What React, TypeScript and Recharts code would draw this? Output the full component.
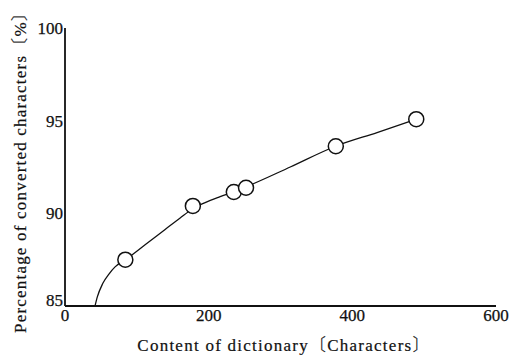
import React from 'react';
import { ComposedChart, Line, Scatter, XAxis, YAxis, Label } from 'recharts';

const xTicks = [0, 200, 400, 600];
const yTicks = [85, 90, 95, 100];

const pointX = [84, 178, 235, 252, 377, 489];
const pointY = [87.5, 90.4, 91.15, 91.38, 93.62, 95.08];

const curveX = [41.8, 45, 52.5, 61.7, 69.7, 84, 111.5, 139.4, 160.3, 178, 195.1, 216, 234.6, 252, 313.6, 376.7, 434.4, 489.2];
const curveY = [85, 85.49, 86.21, 86.75, 87.11, 87.49, 88.3, 89.13, 89.75, 90.25, 90.58, 90.9, 91.16, 91.43, 92.5, 93.62, 94.36, 95.08];

const xTitleMain = 'Content of dictionary';
const xTitleUnit = 'Characters';
const yTitleMain = 'Percentage of converted characters';
const yTitleUnit = '%';

const points = pointX.map((x, i) => ({ x, y: pointY[i] }));
const curve = curveX.map((x, i) => ({ x, y: curveY[i] }));

const SERIF = "'Liberation Serif', 'Times New Roman', serif";
const CJK = "'Noto Sans CJK JP', 'Noto Sans CJK SC', sans-serif";
const AXIS_W = 1.8;
const INK = '#111';

const YTick = (props: any) => {
  const { x, y, payload } = props;
  const shift = payload.value === 85 ? -6 : 0;
  return (
    <text x={x} y={y + shift} dy="0.35em" textAnchor="end" style={{ fontFamily: SERIF, fontSize: 17 }} fill={INK} stroke={INK} strokeWidth={0.25}>
      {payload.value}
    </text>
  );
};

const XTick = (props: any) => {
  const { x, y, payload } = props;
  return (
    <text x={x} y={y} dy="0.8em" textAnchor="middle" style={{ fontFamily: SERIF, fontSize: 17 }} fill={INK} stroke={INK} strokeWidth={0.25}>
      {payload.value}
    </text>
  );
};

const Circle = (props: any) => {
  const { cx, cy } = props;
  return <circle cx={cx} cy={cy} r={7.5} fill="#fff" stroke={INK} strokeWidth={1.5} />;
};

const Title = ({ main, unit }: { main: string; unit: string }) => (
  <>
    <tspan style={{ fontFamily: SERIF }}>{main}</tspan>
    <tspan style={{ fontFamily: CJK, fontWeight: 300 }}>〔</tspan>
    <tspan style={{ fontFamily: SERIF }}>{unit}</tspan>
    <tspan style={{ fontFamily: CJK, fontWeight: 300 }}>〕</tspan>
  </>
);

export default function App() {
  return (
    <div style={{ position: 'absolute', left: 0, top: 0, background: '#fff' }}>
      <ComposedChart width={510} height={355} margin={{ top: 28, right: 14, bottom: 0, left: 0 }}>
        <XAxis
          xAxisId="main"
          type="number"
          dataKey="x"
          domain={[0, 600]}
          ticks={xTicks}
          tickLine={false}
          tickSize={0}
          tickMargin={1}
          tick={<XTick />}
          axisLine={{ stroke: INK, strokeWidth: AXIS_W }}
          height={49}
        >
          <Label
            content={(p: any) => {
              const vb = p.viewBox;
              return (
                <text
                  x={vb.x + vb.width / 2 + 3.5}
                  y={vb.y + 45}
                  textAnchor="middle"
                  style={{ fontFamily: SERIF, fontSize: 17, letterSpacing: 1.25 }}
                  fill={INK}
                  stroke={INK}
                  strokeWidth={0.2}
                >
                  <Title main={xTitleMain} unit={xTitleUnit} />
                </text>
              );
            }}
          />
        </XAxis>
        <XAxis
          xAxisId="inner"
          type="number"
          dataKey="x"
          domain={[0, 600]}
          ticks={xTicks}
          mirror
          tick={false}
          tickSize={6}
          tickLine={{ stroke: INK, strokeWidth: 1.2 }}
          axisLine={false}
          height={0}
        />
        <XAxis
          xAxisId="top"
          orientation="top"
          type="number"
          domain={[0, 600]}
          tick={false}
          tickLine={false}
          axisLine={{ stroke: INK, strokeWidth: AXIS_W }}
          height={0}
        />
        <YAxis
          yAxisId="main"
          type="number"
          domain={[85, 100]}
          ticks={yTicks}
          tickLine={false}
          tickSize={0}
          tickMargin={2}
          tick={<YTick />}
          axisLine={{ stroke: INK, strokeWidth: AXIS_W }}
          width={65}
        >
          <Label
            content={(p: any) => {
              const vb = p.viewBox;
              const cx = vb.x + 26;
              const cy = vb.y + vb.height / 2 + 1;
              return (
                <text
                  x={cx}
                  y={cy}
                  transform={`rotate(-90 ${cx} ${cy})`}
                  textAnchor="middle"
                  style={{ fontFamily: SERIF, fontSize: 17, letterSpacing: 1.2 }}
                  fill={INK}
                  stroke={INK}
                  strokeWidth={0.2}
                >
                  <Title main={yTitleMain} unit={yTitleUnit} />
                </text>
              );
            }}
          />
        </YAxis>
        <YAxis
          yAxisId="inner"
          type="number"
          domain={[85, 100]}
          ticks={yTicks}
          mirror
          tick={false}
          tickSize={6}
          tickLine={{ stroke: INK, strokeWidth: 1.2 }}
          axisLine={false}
          width={0}
        />
        <YAxis
          yAxisId="right"
          orientation="right"
          type="number"
          domain={[85, 100]}
          tick={false}
          tickLine={false}
          axisLine={{ stroke: INK, strokeWidth: AXIS_W }}
          width={0}
        />
        <Line
          xAxisId="main"
          yAxisId="main"
          data={curve}
          dataKey="y"
          type="monotone"
          stroke={INK}
          strokeWidth={1.3}
          dot={false}
          activeDot={false}
          isAnimationActive={false}
        />
        <Scatter
          xAxisId="main"
          yAxisId="main"
          data={points}
          dataKey="y"
          shape={<Circle />}
          isAnimationActive={false}
        />
      </ComposedChart>
    </div>
  );
}
